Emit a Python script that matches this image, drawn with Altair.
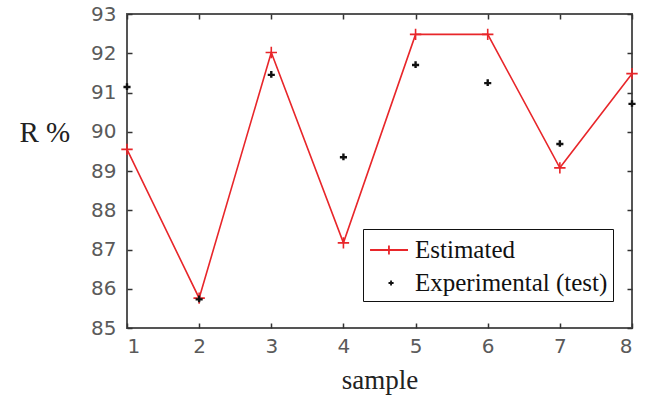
import altair as alt
import pandas as pd

samples = [1, 2, 3, 4, 5, 6, 7, 8]
estimated = [89.55, 85.76, 92.02, 87.17, 92.48, 92.48, 89.08, 91.48]
experimental = [91.15, 85.74, 91.46, 89.36, 91.71, 91.25, 89.70, 90.72]

series_names = ["Estimated", "Experimental (test)"]
series_colors = ["#e8262a", "#111111"]

# marker glyphs (SVG paths in unit coordinates)
plus_path = "M-1,0H1M0,-1V1"
small_mark_path = "M-0.85,0.1H0.85M0,-0.8V0.8"
# legend glyphs: a line with a plus for the estimate, a small plus for the test data
legend_line_plus = "M-0.93,0H1.6M0.33,-0.3V0.3"
legend_small = "M0.3,0H0.64M0.47,-0.17V0.17"

df = pd.DataFrame({
    "sample": samples * 2,
    "value": estimated + experimental,
    "series": [series_names[0]] * len(samples) + [series_names[1]] * len(samples),
})

x_scale = alt.Scale(domain=[1, 8], nice=False, zero=False)
y_scale = alt.Scale(domain=[85, 93], nice=False, zero=False)

label_font = "DejaVu Sans"
serif = "Liberation Serif"
tick_style = dict(offset=-5, tickSize=5, tickColor="#333", tickWidth=1.5, domain=False, grid=False)

x_bottom = alt.Axis(orient="bottom", values=samples, format="d",
                    labelFont=label_font, labelFontSize=20, labelColor="#5a5a5a",
                    labelPadding=8, title="sample", titleFont=serif, titleFontSize=27,
                    titleFontWeight="normal", titleColor="#222", titlePadding=11, **tick_style)
y_left = alt.Axis(orient="left", values=list(range(85, 94)),
                  labelFont=label_font, labelFontSize=20, labelColor="#5a5a5a",
                  labelPadding=11, title="R %", titleFont=serif, titleFontSize=29,
                  titleFontWeight="normal", titleColor="#222", titleAngle=0,
                  titleAlign="left", titleBaseline="middle", titleX=-113, titleY=118,
                  **tick_style)
x_top = alt.Axis(orient="top", labels=False, title=None, values=samples, **tick_style)
y_right = alt.Axis(orient="right", labels=False, title=None, values=list(range(85, 94)), **tick_style)

base = alt.Chart(df)
est = base.transform_filter(alt.datum.series == series_names[0])
exp = base.transform_filter(alt.datum.series == series_names[1])

line = est.mark_line(color=series_colors[0], strokeWidth=1.6).encode(
    x=alt.X("sample:Q", scale=x_scale, axis=x_bottom),
    y=alt.Y("value:Q", scale=y_scale, axis=y_left),
)

est_points = est.mark_point(filled=False, size=130, strokeWidth=1.6, color=series_colors[0],
                            shape=plus_path, opacity=1).encode(
    x=alt.X("sample:Q", scale=x_scale, axis=x_top),
    y=alt.Y("value:Q", scale=y_scale, axis=y_right),
)

exp_points = exp.mark_point(filled=False, size=70, strokeWidth=2.4, color=series_colors[1],
                            shape=small_mark_path, opacity=1).encode(
    x=alt.X("sample:Q", scale=x_scale, axis=None),
    y=alt.Y("value:Q", scale=y_scale, axis=None),
)

legend = alt.Legend(
    title=None, orient="none", legendX=236, legendY=215,
    labelFont=serif, labelFontSize=25, labelColor="#111",
    strokeColor="#111", fillColor="white", padding=5,
    symbolSize=900, symbolStrokeWidth=1.8, rowPadding=4, labelOffset=15,
    labelLimit=400,
)

# carries the legend only; its own marks are transparent
legend_layer = base.mark_point(filled=False, opacity=0).encode(
    x=alt.X("sample:Q", scale=x_scale, axis=None),
    y=alt.Y("value:Q", scale=y_scale, axis=None),
    color=alt.Color("series:N", scale=alt.Scale(domain=series_names, range=series_colors), legend=legend),
    shape=alt.Shape("series:N", scale=alt.Scale(domain=series_names, range=[legend_line_plus, legend_small]), legend=legend),
)

chart = alt.layer(line, est_points, exp_points, legend_layer).resolve_axis(
    x="independent", y="independent"
).properties(
    width=505, height=314,
    autosize=alt.AutoSizeParams(type="none"),
    padding={"left": 127, "top": 14, "right": 17, "bottom": 74},
    background="white",
).configure_view(stroke="#555", strokeWidth=2)

chart.save("out.html", embed_options={"renderer": "svg", "actions": False})
